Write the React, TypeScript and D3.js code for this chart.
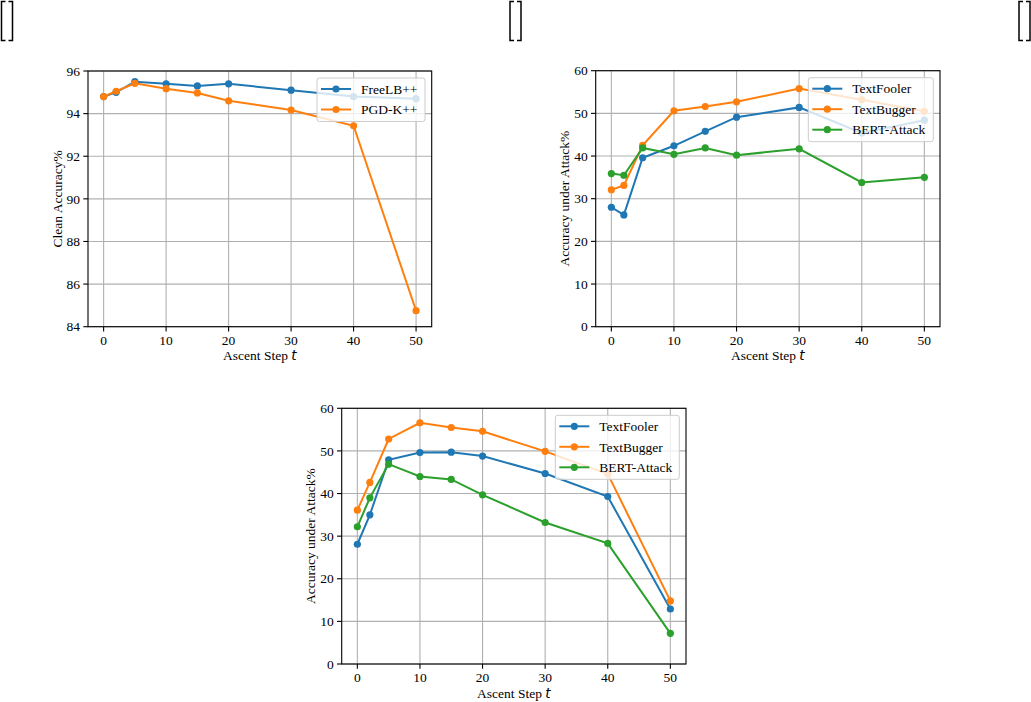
import * as d3 from "d3";

// ascent steps shared by all three panels
const steps = [0, 2, 5, 10, 15, 20, 30, 40, 50];
const xTicks = [0, 10, 20, 30, 40, 50];

// top-left: clean accuracy
const freeLB = [94.8, 95.0, 95.5, 95.4, 95.3, 95.4, 95.1, 94.8, 94.7];
const pgdK = [94.8, 95.05, 95.42, 95.17, 94.97, 94.6, 94.17, 93.43, 84.75];
const cleanTicks = [84, 86, 88, 90, 92, 94, 96];

// top-right: accuracy under attack
const tfA = [28.0, 26.2, 39.6, 42.4, 45.8, 49.1, 51.4, 45.4, 48.4];
const tbA = [32.1, 33.1, 42.5, 50.6, 51.6, 52.7, 55.8, 53.2, 50.5];
const baA = [35.9, 35.5, 41.9, 40.4, 41.9, 40.2, 41.7, 33.8, 35.0];

// bottom: accuracy under attack
const tfB = [28.1, 35.0, 47.9, 49.6, 49.7, 48.8, 44.7, 39.3, 12.9];
const tbB = [36.1, 42.6, 52.8, 56.6, 55.5, 54.6, 49.9, 44.6, 14.8];
const baB = [32.2, 39.0, 46.9, 44.0, 43.3, 39.7, 33.2, 28.3, 7.2];
const attackTicks = [0, 10, 20, 30, 40, 50, 60];

const blue = "#1f77b4";
const orange = "#ff7f0e";
const green = "#2ca02c";
const font = "'Liberation Serif', 'Times New Roman', serif";
const fs = 13.5;

type Series = { name: string; color: string; values: number[] };

function Panel({ left, top, right, bottom, yDomain, yTicks, yLabel, series, legendWidth }: {
  left: number; top: number; right: number; bottom: number;
  yDomain: [number, number]; yTicks: number[]; yLabel: string;
  series: Series[]; legendWidth: number;
}) {
  const x = d3.scaleLinear().domain([-2.5, 52.5]).range([left, right]);
  const y = d3.scaleLinear().domain(yDomain).range([bottom, top]);
  const line = d3.line<number>().x((_, i) => x(steps[i])).y((d) => y(d));

  const rowH = 20.5;
  const lw = legendWidth;
  const lh = rowH * series.length + 2.5;
  const lx = right - 6.7 - lw;
  const ly = top + 7;

  return (
    <g fontFamily={font} fontSize={fs}>
      {/* grid */}
      <g stroke="#b0b0b0" strokeWidth={1.1}>
        {xTicks.map((t) => (
          <line key={"gx" + t} x1={x(t)} x2={x(t)} y1={top} y2={bottom} />
        ))}
        {yTicks.map((t) => (
          <line key={"gy" + t} x1={left} x2={right} y1={y(t)} y2={y(t)} />
        ))}
      </g>
      {/* series */}
      {series.map((s) => (
        <g key={s.name}>
          <path d={line(s.values) ?? ""} fill="none" stroke={s.color} strokeWidth={2} />
          {s.values.map((v, i) => (
            <circle key={i} cx={x(steps[i])} cy={y(v)} r={3.6} fill={s.color} />
          ))}
        </g>
      ))}
      {/* spines */}
      <rect x={left} y={top} width={right - left} height={bottom - top} fill="none" stroke="#000" strokeWidth={1.1} />
      {/* x axis */}
      {xTicks.map((t) => (
        <g key={"xt" + t}>
          <line x1={x(t)} x2={x(t)} y1={bottom} y2={bottom + 4.7} stroke="#000" strokeWidth={1.1} />
          <text x={x(t)} y={bottom + 18} textAnchor="middle">{t}</text>
        </g>
      ))}
      <text x={(left + right) / 2} y={bottom + 33.5} textAnchor="middle">
        Ascent Step <tspan fontFamily="'DejaVu Sans', sans-serif" fontStyle="italic">t</tspan>
      </text>
      {/* y axis */}
      {yTicks.map((t) => (
        <g key={"yt" + t}>
          <line x1={left - 4.7} x2={left} y1={y(t)} y2={y(t)} stroke="#000" strokeWidth={1.1} />
          <text x={left - 8} y={y(t)} dy="0.35em" textAnchor="end">{t}</text>
        </g>
      ))}
      <text
        transform={`translate(${left - 31},${(top + bottom) / 2}) rotate(-90)`}
        textAnchor="middle"
        dominantBaseline="central"
      >
        {yLabel}
      </text>
      {/* legend */}
      <rect x={lx} y={ly} width={lw} height={lh} rx={2.5} fill="#fff" fillOpacity={0.8} stroke="#cccccc" strokeWidth={1} />
      {series.map((s, i) => {
        const cy = ly + 11 + i * rowH;
        return (
          <g key={"lg" + s.name}>
            <line x1={lx + 4} x2={lx + 34} y1={cy} y2={cy} stroke={s.color} strokeWidth={2} />
            <circle cx={lx + 19} cy={cy} r={3.6} fill={s.color} />
            <text x={lx + 44} y={cy} dy="0.35em">{s.name}</text>
          </g>
        );
      })}
    </g>
  );
}

function Bracket({ x0, x1 }: { x0: number; x1: number }) {
  const y0 = 1.5;
  const y1 = 40.5;
  return (
    <g fill="none" stroke="#000" strokeWidth={1.5}>
      <path d={`M${x0 + 4},${y0} H${x0} V${y1} H${x0 + 4}`} />
      <path d={`M${x1 - 4},${y0} H${x1} V${y1} H${x1 - 4}`} />
    </g>
  );
}

export default function App() {
  const attackA: Series[] = [
    { name: "TextFooler", color: blue, values: tfA },
    { name: "TextBugger", color: orange, values: tbA },
    { name: "BERT-Attack", color: green, values: baA },
  ];
  const attackB: Series[] = [
    { name: "TextFooler", color: blue, values: tfB },
    { name: "TextBugger", color: orange, values: tbB },
    { name: "BERT-Attack", color: green, values: baB },
  ];
  const clean: Series[] = [
    { name: "FreeLB++", color: blue, values: freeLB },
    { name: "PGD-K++", color: orange, values: pgdK },
  ];
  return (
    <svg
      width={1031}
      height={702}
      style={{ position: "absolute", left: 0, top: 0, background: "#fff" }}
    >
      <Bracket x0={1.5} x1={12.5} />
      <Bracket x0={510} x1={521} />
      <Bracket x0={1019} x1={1030} />
      <Panel left={88} top={71} right={431.7} bottom={326.7} yDomain={[84, 96]} yTicks={cleanTicks}
        yLabel="Clean Accuracy%" series={clean} legendWidth={108} />
      <Panel left={595.7} top={70.7} right={940} bottom={326.7} yDomain={[0, 60]} yTicks={attackTicks}
        yLabel="Accuracy under Attack%" series={attackA} legendWidth={125} />
      <Panel left={341.7} top={408.3} right={686} bottom={664} yDomain={[0, 60]} yTicks={attackTicks}
        yLabel="Accuracy under Attack%" series={attackB} legendWidth={124} />
    </svg>
  );
}
